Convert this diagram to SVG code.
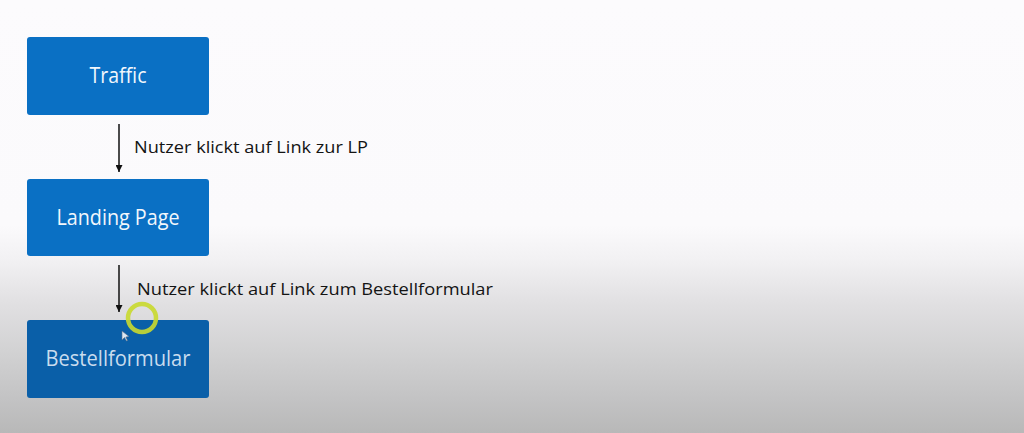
<svg xmlns="http://www.w3.org/2000/svg" width="1024" height="433" viewBox="0 0 1024 433">
  <defs>
    <linearGradient id="bg" x1="0" y1="0" x2="0" y2="433" gradientUnits="userSpaceOnUse">
      <stop offset="0" stop-color="#fcfbfd"/>
      <stop offset="0.52" stop-color="#fbfafc"/>
      <stop offset="0.6" stop-color="#f2f1f3"/>
      <stop offset="0.7" stop-color="#e1e0e2"/>
      <stop offset="0.81" stop-color="#d2d2d3"/>
      <stop offset="0.92" stop-color="#c3c3c4"/>
      <stop offset="1" stop-color="#b8b8b8"/>
    </linearGradient>
    <marker id="arrow" viewBox="0 0 10 10" refX="10" refY="5" markerWidth="8" markerHeight="7" markerUnits="userSpaceOnUse" orient="auto">
      <path d="M0,0 L10,5 L0,10 z" fill="#111"/>
    </marker>
    <style>
      .box { fill: #0a70c4; }
      .boxdark { fill: #0a5fa8; }
      .boxtext { font-family: "Open Sans", "Liberation Sans", sans-serif; font-size: 21px; fill: #f2f7fc; text-anchor: middle; }
      .label { font-family: "Open Sans", "Liberation Sans", sans-serif; font-size: 17px; fill: #141414; }
      .conn { stroke: #111; stroke-width: 1.5; fill: none; }
    </style>
  </defs>
  <rect x="0" y="0" width="1024" height="433" fill="url(#bg)"/>

  <g id="node-traffic">
    <rect class="box" x="27" y="37" width="182" height="78" rx="3"/>
    <text class="boxtext" x="118" y="83" textLength="57" lengthAdjust="spacingAndGlyphs">Traffic</text>
  </g>
  <g id="node-landing">
    <rect class="box" x="27" y="179" width="182" height="77" rx="3"/>
    <text class="boxtext" x="118" y="225" textLength="123" lengthAdjust="spacingAndGlyphs">Landing Page</text>
  </g>
  <g id="node-bestell">
    <rect class="boxdark" x="27" y="320" width="182" height="78" rx="3"/>
    <text class="boxtext" x="118" y="366" style="fill:#c9dcee" textLength="145" lengthAdjust="spacingAndGlyphs">Bestellformular</text>
  </g>

  <g id="connectors">
    <line class="conn" x1="119" y1="124" x2="119" y2="172" marker-end="url(#arrow)"/>
    <text class="label" x="134" y="153" textLength="234" lengthAdjust="spacingAndGlyphs">Nutzer klickt auf Link zur LP</text>
    <line class="conn" x1="119" y1="265" x2="119" y2="312" marker-end="url(#arrow)"/>
    <text class="label" x="137" y="295" textLength="356" lengthAdjust="spacingAndGlyphs">Nutzer klickt auf Link zum Bestellformular</text>
  </g>

  <g id="cursor">
    <circle cx="142" cy="318" r="14" fill="none" stroke="#c9d92e" stroke-width="4.5" opacity="0.9"/>
    <path d="M122,331 L122,340 L124.5,337.5 L126.5,341 L127.5,340.5 L125.8,337 L129,336.5 z" fill="#dfe8f2" stroke="#5a6f86" stroke-width="0.6"/>
  </g>
</svg>
